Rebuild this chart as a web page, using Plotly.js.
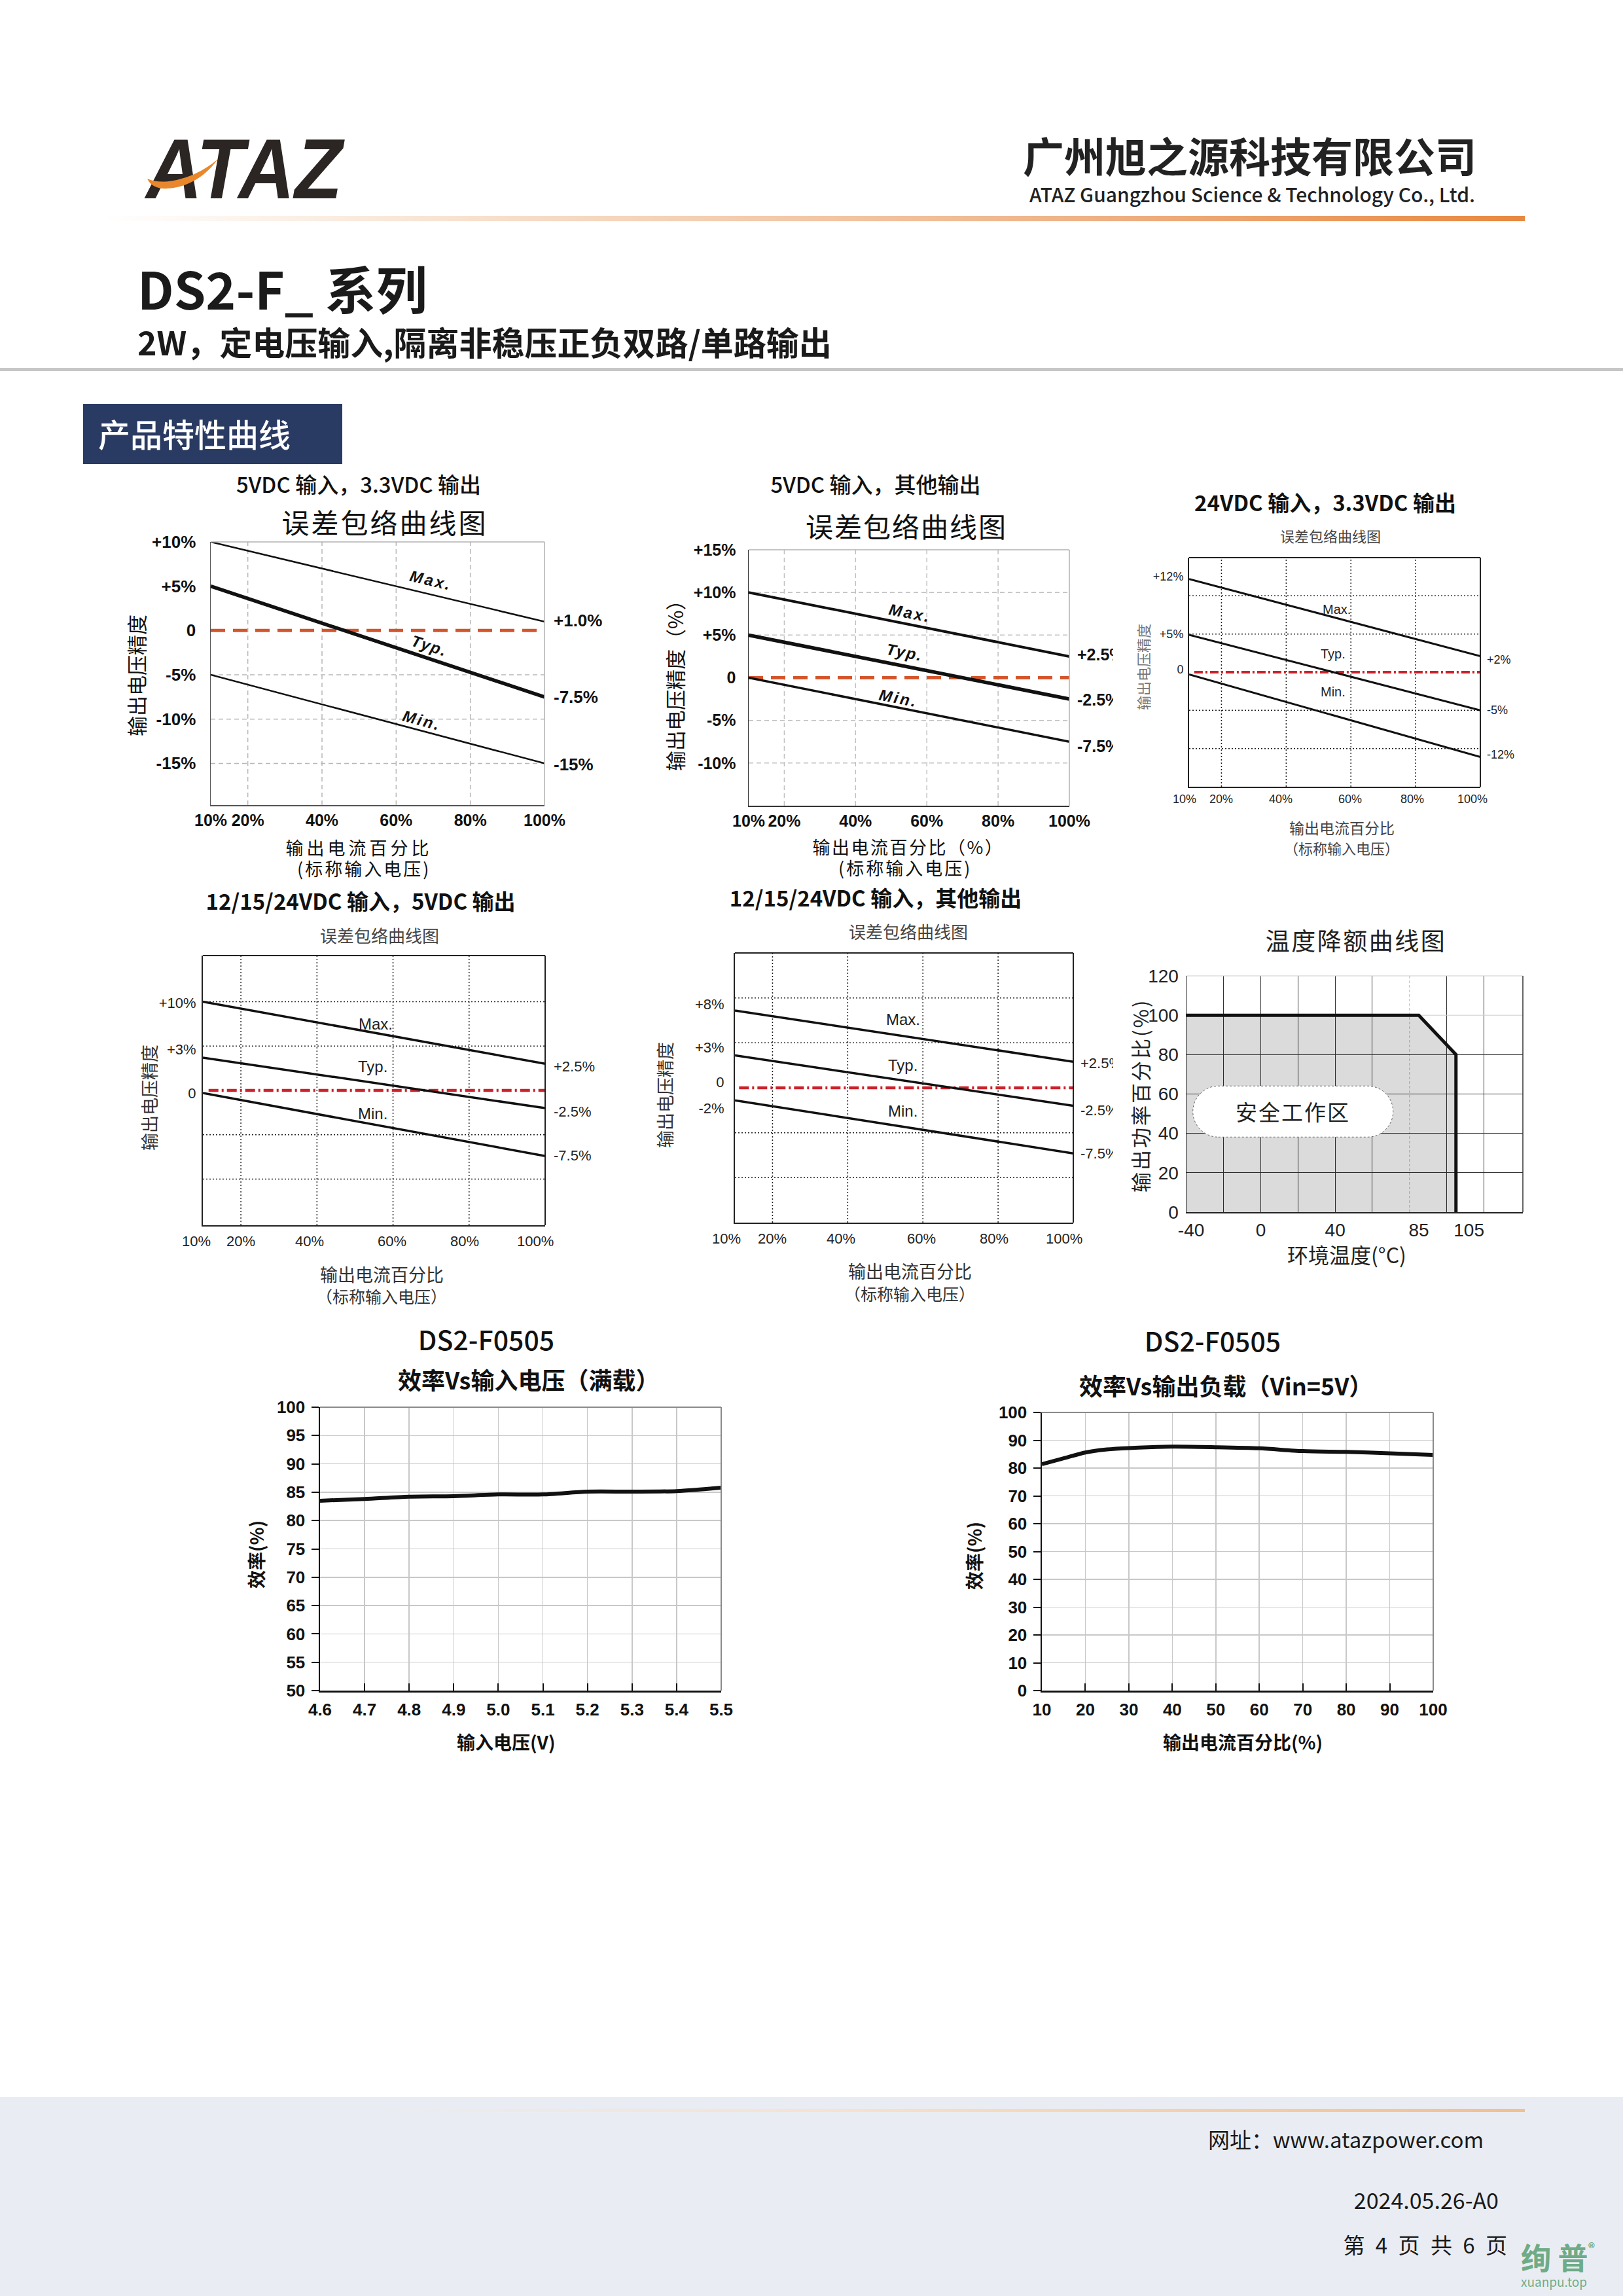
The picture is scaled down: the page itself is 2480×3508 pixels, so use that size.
<!DOCTYPE html>
<html><head><meta charset="utf-8">
<script src="https://cdn.plot.ly/plotly-3.0.1.min.js"></script>
<style>
html,body{margin:0;padding:0;background:#fff;}
#page{position:relative;width:2480px;height:3508px;overflow:hidden;background:#fff;font-family:"Noto Sans CJK SC","Noto Sans",sans-serif;color:#1a1a1a;}
.abs{position:absolute;white-space:nowrap;line-height:1;}
.chart{position:absolute;overflow:hidden;}
</style></head><body><div id="page">

<!-- header -->
<svg class="abs" style="left:200px;top:190px" width="400" height="135" viewBox="0 0 400 135">
  <text x="23" y="113" font-family="Liberation Sans, Arial, sans-serif" font-weight="bold" font-style="italic" font-size="130" fill="#2b2523" textLength="300" lengthAdjust="spacingAndGlyphs">ATAZ</text>
  <path d="M25 83 Q35 105 75 95 Q110 85 133 53 Q105 77 70 85 Q43 91 25 83 Z" fill="#e8872c"/>
</svg>
<div class="abs" style="right:224px;top:204px;font-size:63px;font-weight:700;color:#222;">广州旭之源科技有限公司</div>
<div class="abs" style="right:226px;top:281px;font-size:30px;font-weight:500;color:#222;">ATAZ Guangzhou Science &amp; Technology Co., Ltd.</div>
<div class="abs" style="left:156px;top:330px;width:2174px;height:8px;background:linear-gradient(to right,rgba(255,255,255,0),#f6dcc6 30%,#eeb184 70%,#e8883f);"></div>
<div class="abs" style="left:210px;top:400px;font-size:78px;font-weight:600;color:#1a1a1a;">DS2-F_ 系列</div>
<div class="abs" style="left:210px;top:496px;font-size:50px;font-weight:700;color:#1a1a1a;">2W，定电压输入,隔离非稳压正负双路/单路输出</div>
<div class="abs" style="left:0;top:562px;width:2480px;height:5px;background:#c6c6c6;"></div>
<div class="abs" style="left:127px;top:617px;width:396px;height:92px;background:#2a3b63;"></div>
<div class="abs" style="left:150px;top:637px;font-size:49px;font-weight:500;color:#fff;">产品特性曲线</div>

<!-- footer -->
<div class="abs" style="left:0;top:3204px;width:2480px;height:304px;background:#e9edf3;"></div>
<div class="abs" style="left:560px;top:3222px;width:1770px;height:5px;background:linear-gradient(to right,rgba(255,255,255,0),#f7e2cf 40%,#f2bf90);"></div>
<div class="abs" style="right:213px;top:3252px;font-size:33px;color:#1a1a1a;">网址：www.atazpower.com</div>
<div class="abs" style="right:190px;top:3344px;font-size:34px;color:#1a1a1a;">2024.05.26-A0</div>
<div class="abs" style="right:177px;top:3413px;font-size:33px;color:#1a1a1a;word-spacing:9px;">第 4 页 共 6 页</div>
<div class="abs" style="left:2324px;top:3424px;font-size:46px;font-weight:700;color:rgba(70,150,100,0.75);">绚 普<span style="font-size:21px;vertical-align:top;">®</span></div>
<div class="abs" style="left:2324px;top:3476px;font-size:19px;color:rgba(70,150,100,0.75);">xuanpu.top</div>

</div>
<script>
const CJK = '"Noto Sans CJK SC","Noto Sans",sans-serif';
const ARIAL = '"Liberation Sans",Arial,sans-serif';

// ================= DATA =================
const loadPct = [10, 100];
const refY = [0, 0];
const xTickVals = [10, 20, 40, 60, 80, 100];
const xTickText = ['10%', '20%', '40%', '60%', '80%', '100%'];
const curveNames = ['Max.', 'Typ.', 'Min.'];
const gridX = [20, 40, 60, 80];

// Chart 1: 5VDC in, 3.3VDC out
const c1Max = [10, 1.0];
const c1Typ = [5, -7.5];
const c1Min = [-5, -15];
const c1RefX = [10, 100];
const c1YTickVals = [10, 5, 0, -5, -10, -15];
const c1YTickText = ['+10%', '+5%', '0', '-5%', '-10%', '-15%'];
const c1RightVals = [1.1, -7.5, -15.1];
const c1RightText = ['+1.0%', '-7.5%', '-15%'];
const c1NameX = [69.3, 68.9, 67.0];
const c1NameY = [5.7, -1.7, -10.1];
const c1GridY = [-5, -10, -15];

// Chart 2: 5VDC in, other outputs
const c2Max = [10, 2.5];
const c2Typ = [5, -2.5];
const c2Min = [0, -7.5];
const c2RefX = [10, 100];
const c2YTickVals = [15, 10, 5, 0, -5, -10];
const c2YTickText = ['+15%', '+10%', '+5%', '0', '-5%', '-10%'];
const c2RightVals = [2.7, -2.6, -8.0];
const c2RightText = ['+2.5%', '-2.5%', '-7.5%'];
const c2NameX = [55.2, 53.8, 52.0];
const c2NameY = [7.6, 3.0, -2.4];
const c2GridY = [10, 5, -5, -10];

// Chart 3: 24VDC in, 3.3VDC out
const c3Max = [12.2, 2.1];
const c3Typ = [4.9, -5.0];
const c3Min = [-0.3, -11.1];
const c3RefX = [11.6, 100];
const c3YTickVals = [12.5, 5.0, 0.4];
const c3YTickText = ['+12%', '+5%', '0'];
const c3XTickPos = [8.6, 20, 38.4, 59.8, 79, 97.6];
const c3RightVals = [1.6, -5.0, -10.8];
const c3RightText = ['+2%', '-5%', '-12%'];
const c3NameX = [55.6, 54.4, 54.4];
const c3NameY = [8.2, 2.4, -2.6];
const gridY10 = [10, 5, -5, -10];

// Chart 4: 12/15/24VDC in, 5VDC out
const c4Max = [10.0, 3.0];
const c4Typ = [3.7, -2.0];
const c4Min = [-0.3, -7.4];
const c4RefX = [11.5, 100];
const c4YTickVals = [9.9, 4.6, -0.3];
const c4YTickText = ['+10%', '+3%', '0'];
const c4XTickPos = [8.2, 20, 38.1, 59.7, 78.8, 97.4];
const c4RightVals = [2.7, -2.4, -7.35];
const c4RightText = ['+2.5%', '-2.5%', '-7.5%'];
const c4NameX = [55.5, 54.6, 54.6];
const c4NameY = [7.5, 2.7, -2.6];

// Chart 5: 12/15/24VDC in, other outputs
const c5Max = [8.6, 2.9];
const c5Typ = [3.6, -2.0];
const c5Min = [-1.4, -7.3];
const c5RefX = [11.1, 100];
const c5YTickVals = [9.3, 4.5, 0.6, -2.3];
const c5YTickText = ['+8%', '+3%', '0', '-2%'];
const c5XTickPos = [7.8, 20, 38.2, 59.7, 78.9, 97.5];
const c5RightVals = [2.7, -2.5, -7.3];
const c5RightText = ['+2.5%', '-2.5%', '-7.5%'];
const c5NameX = [54.7, 54.7, 54.7];
const c5NameY = [7.6, 2.5, -2.6];

// Chart 6: temperature derating
const tempC = [-40, 85, 105, 105];
const powerPct = [100, 100, 80, 0];
const c6XTickPos = [-37.5, 0, 40, 85, 112];
const c6XTickText = ['-40', '0', '40', '85', '105'];
const c6YTickVals = [0, 20, 40, 60, 80, 100, 120];
const c6GridX = [-20, 0, 20, 40, 60, 100, 120];
const c6GridY = [20, 40, 60, 80];
const c6SafeCenter = [17.3, 51.1];

// Chart 7: efficiency vs input voltage
const vin = [4.6, 4.7, 4.8, 4.9, 5.0, 5.1, 5.2, 5.3, 5.4, 5.5];
const effVin = [83.5, 83.8, 84.2, 84.3, 84.6, 84.6, 85.1, 85.1, 85.2, 85.8];

// Chart 8: efficiency vs output load
const loadC8 = [10, 15, 20, 25, 30, 40, 50, 60, 70, 80, 90, 100];
const effLoad = [81.4, 83.5, 85.6, 86.7, 87.2, 87.7, 87.5, 87.1, 86.1, 85.8, 85.3, 84.7];

// ================= HELPERS =================
const PAGE = document.getElementById('page');
function mkDiv(id, g) {
  const d = document.createElement('div');
  d.id = id; d.className = 'chart';
  d.style.left = g.left + 'px'; d.style.top = g.top + 'px';
  d.style.width = g.w + 'px'; d.style.height = g.h + 'px';
  PAGE.appendChild(d);
  return d;
}
function baseLayout(g) {
  return {
    width: g.w, height: g.h,
    margin: {l: g.x0 - g.left, r: g.left + g.w - g.x1, t: g.y0 - g.top, b: g.top + g.h - g.y1, pad: 0, autoexpand: false},
    paper_bgcolor: 'rgba(0,0,0,0)', plot_bgcolor: '#fff', showlegend: false,
    font: {family: CJK, color: '#111'}
  };
}
function PX(g, X) { return (X - g.x0) / (g.x1 - g.x0); }
function PY(g, Y) { return (g.y1 - Y) / (g.y1 - g.y0); }
function txt(g, text, X, Y, font, opt) {
  opt = opt || {};
  return {text: text, xref: 'paper', yref: 'paper', x: PX(g, X), y: PY(g, Y),
    xanchor: opt.xa || 'center', yanchor: 'middle', showarrow: false,
    textangle: opt.angle || 0, font: font};
}
function titleObj(g, text, X, Y, font) {
  return {text: text, xref: 'container', yref: 'container', x: (X - g.left) / g.w, y: 1 - (Y - g.top) / g.h,
    xanchor: 'center', yanchor: 'middle', font: font};
}
function spaceOut(div, map) {
  if (!map) return;
  div.querySelectorAll('text').forEach(t => {
    const k = t.textContent;
    if (map[k] !== undefined) t.style.letterSpacing = map[k] + 'px';
  });
}
const CFG = {staticPlot: true, displayModeBar: false};

function errorChart(id, o) {
  const g = o.g;
  const div = mkDiv(id, g);
  const data = [
    {x: o.refX, y: refY, mode: 'lines', line: {color: o.refColor, width: o.refW, dash: o.refDash}},
    {x: loadPct, y: o.max, mode: 'lines', line: {color: '#111', width: o.lw[0]}},
    {x: loadPct, y: o.typ, mode: 'lines', line: {color: '#111', width: o.lw[1]}},
    {x: loadPct, y: o.min, mode: 'lines', line: {color: '#111', width: o.lw[2]}}
  ];
  const shapes = [];
  gridX.forEach(v => shapes.push({type: 'line', xref: 'x', yref: 'paper', x0: v, x1: v, y0: 0, y1: 1, layer: 'below',
    line: {color: o.gridColor, width: o.gridW, dash: o.gridDash}}));
  o.gridY.forEach(v => shapes.push({type: 'line', xref: 'paper', yref: 'y', x0: 0, x1: 1, y0: v, y1: v, layer: 'below',
    line: {color: o.gridColor, width: o.gridW, dash: o.gridDash}}));
  shapes.push({type: 'line', xref: 'paper', yref: 'paper', x0: 0, x1: 1, y0: 1, y1: 1, line: {color: o.frameTR, width: o.frameW}});
  shapes.push({type: 'line', xref: 'paper', yref: 'paper', x0: 1, x1: 1, y0: 0, y1: 1, line: {color: o.frameTR, width: o.frameW}});
  const ann = [];
  curveNames.forEach((t, i) => ann.push({text: t, x: o.nameX[i], y: o.nameY[i], xref: 'x', yref: 'y', showarrow: false,
    textangle: o.nameAngle[i], font: o.nameFont}));
  o.rightText.forEach((t, i) => ann.push({text: t, xref: 'paper', yref: 'y', x: PX(g, o.rightX), y: o.rightVals[i],
    xanchor: 'left', yanchor: 'middle', showarrow: false, font: o.sideFont}));
  if (o.xLabelY !== undefined) {
    o.xTickPos.forEach((v, i) => ann.push({text: xTickText[i], xref: 'paper', yref: 'paper',
      x: (v - 10) / 90, y: PY(g, o.xLabelY), xanchor: 'center', yanchor: 'middle', showarrow: false, font: o.xTickFont}));
  }
  ann.push(txt(g, o.subtitle[0], o.subtitle[1], o.subtitle[2], o.subFont));
  o.xTitle.forEach(t => ann.push(txt(g, t[0], t[1], t[2], t[3])));
  ann.push(txt(g, o.yTitle[0], o.yTitle[1], o.yTitle[2], o.yTitle[3], {angle: -90}));
  const layout = Object.assign(baseLayout(g), {
    title: titleObj(g, o.title[0], o.title[1], o.title[2], o.titleFont),
    xaxis: {range: [10, 100], tickvals: xTickVals, ticktext: xTickText, showticklabels: o.xLabelY === undefined,
      showgrid: false, zeroline: false,
      showline: true, linecolor: o.frameLB, linewidth: o.frameW, ticks: 'outside', ticklen: o.xTickLen || 0,
      tickcolor: 'rgba(0,0,0,0)', tickfont: o.xTickFont},
    yaxis: {range: o.yRange, tickvals: o.yTickVals, ticktext: o.yTickText, showgrid: false, zeroline: false,
      showline: true, linecolor: o.frameLB, linewidth: o.frameW, ticks: 'outside', ticklen: o.yTickLen,
      tickcolor: 'rgba(0,0,0,0)', tickfont: o.sideFont},
    shapes: shapes, annotations: ann
  });
  Plotly.newPlot(div, data, layout, CFG).then(() => spaceOut(div, o.spacing));
}

// ================= CHART 1 =================
{
  const g = {left: 180, top: 700, w: 780, h: 650, x0: 322, x1: 832, y0: 828, y1: 1230};
  const bold = {family: ARIAL, size: 26, weight: 'bold', color: '#111'};
  errorChart('c1', {
    g: g, max: c1Max, typ: c1Typ, min: c1Min, refX: c1RefX,
    refColor: '#d4552b', refW: 5, refDash: '22px,12px', lw: [2.5, 5.5, 2.5],
    gridColor: '#b8b8b8', gridW: 1.5, gridDash: '7px,5px', gridY: c1GridY,
    frameLB: '#555', frameTR: '#b0b0b0', frameW: 1.5,
    yRange: [-19.7, 10], yTickVals: c1YTickVals, yTickText: c1YTickText, yTickLen: 16,
    xTickLen: 0, xTickFont: {family: ARIAL, size: 25, weight: 'bold', color: '#111'},
    sideFont: bold, rightX: 844, rightVals: c1RightVals, rightText: c1RightText,
    nameX: c1NameX, nameY: c1NameY, nameAngle: [13, 18, 15],
    nameFont: {family: ARIAL, size: 24, weight: 'bold', style: 'italic', color: '#111'},
    title: ['5VDC 输入，3.3VDC 输出', 548, 741], titleFont: {family: CJK, size: 33, weight: 500, color: '#111'},
    subtitle: ['误差包络曲线图', 588, 797], subFont: {family: CJK, size: 42, color: '#111'},
    xTitle: [['输出电流百分比', 548, 1294, {family: CJK, size: 27, color: '#111'}],
             ['(标称输入电压)', 556, 1326, {family: CJK, size: 27, color: '#111'}]],
    yTitle: ['输出电压精度', 207, 1032, {family: CJK, size: 31, color: '#111'}],
    spacing: {'误差包络曲线图': 3, '输出电流百分比': 5, '(标称输入电压)': 3, 'Max.': 3, 'Typ.': 2, 'Min.': 3}
  });
}

// ================= CHART 2 =================
{
  const g = {left: 980, top: 700, w: 721, h: 650, x0: 1144, x1: 1634, y0: 840, y1: 1231};
  const bold = {family: ARIAL, size: 25, weight: 'bold', color: '#111'};
  errorChart('c2', {
    g: g, max: c2Max, typ: c2Typ, min: c2Min, refX: c2RefX,
    refColor: '#d4552b', refW: 5, refDash: '22px,12px', lw: [4, 5.5, 3.5],
    gridColor: '#c0c0c0', gridW: 1.5, gridDash: '7px,5px', gridY: c2GridY,
    frameLB: '#333', frameTR: '#b0b0b0', frameW: 1.5,
    yRange: [-15, 15], yTickVals: c2YTickVals, yTickText: c2YTickText, yTickLen: 13,
    xTickLen: 0, xTickFont: {family: ARIAL, size: 25, weight: 'bold', color: '#111'},
    sideFont: bold, rightX: 1644, rightVals: c2RightVals, rightText: c2RightText,
    nameX: c2NameX, nameY: c2NameY, nameAngle: [11, 11, 11],
    nameFont: {family: ARIAL, size: 24, weight: 'bold', style: 'italic', color: '#111'},
    title: ['5VDC 输入，其他输出', 1338, 741], titleFont: {family: CJK, size: 33, weight: 500, color: '#111'},
    subtitle: ['误差包络曲线图', 1385, 802], subFont: {family: CJK, size: 42, color: '#111'},
    xTitle: [['输出电流百分比（%）', 1388, 1293, {family: CJK, size: 27, color: '#111'}],
             ['(标称输入电压)', 1383, 1325, {family: CJK, size: 27, color: '#111'}]],
    yTitle: ['输出电压精度（%）', 1030, 1040, {family: CJK, size: 31, color: '#111'}],
    spacing: {'误差包络曲线图': 2, '输出电流百分比（%）': 2.5, '(标称输入电压)': 3, 'Max.': 3, 'Typ.': 2, 'Min.': 3}
  });
}

// ================= CHART 3 =================
{
  const g = {left: 1725, top: 740, w: 685, h: 600, x0: 1817, x1: 2262, y0: 852, y1: 1202};
  const f = {family: ARIAL, size: 18, color: '#222'};
  errorChart('c3', {
    g: g, max: c3Max, typ: c3Typ, min: c3Min, refX: c3RefX,
    refColor: '#cc2229', refW: 4, refDash: '13px,4px,3px,4px', lw: [3, 3, 3],
    gridColor: '#222', gridW: 1.5, gridDash: '2px,3px', gridY: gridY10,
    frameLB: '#222', frameTR: '#222', frameW: 2,
    yRange: [-15, 15], yTickVals: c3YTickVals, yTickText: c3YTickText, yTickLen: 3,
    xTickPos: c3XTickPos, xLabelY: 1221, xTickFont: f,
    sideFont: f, rightX: 2270, rightVals: c3RightVals, rightText: c3RightText,
    nameX: c3NameX, nameY: c3NameY, nameAngle: [0, 0, 0],
    nameFont: {family: ARIAL, size: 20, color: '#222'},
    title: ['24VDC 输入，3.3VDC 输出', 2025, 769], titleFont: {family: CJK, size: 33, weight: 700, color: '#111'},
    subtitle: ['误差包络曲线图', 2033, 818], subFont: {family: CJK, size: 22, color: '#444'},
    xTitle: [['输出电流百分比', 2050, 1264, {family: CJK, size: 23, color: '#444'}],
             ['（标称输入电压）', 2050, 1295, {family: CJK, size: 22, color: '#444'}]],
    yTitle: ['输出电压精度', 1746, 1019, {family: CJK, size: 22, color: '#777'}]
  });
}

// ================= CHART 4 =================
{
  const g = {left: 180, top: 1330, w: 780, h: 680, x0: 310, x1: 833, y0: 1460, y1: 1872};
  const f = {family: ARIAL, size: 22, color: '#222'};
  errorChart('c4', {
    g: g, max: c4Max, typ: c4Typ, min: c4Min, refX: c4RefX,
    refColor: '#cc2229', refW: 4.5, refDash: '15px,5px,3px,5px', lw: [3.5, 3.5, 3.5],
    gridColor: '#222', gridW: 1.5, gridDash: '2px,3px', gridY: gridY10,
    frameLB: '#222', frameTR: '#222', frameW: 2,
    yRange: [-15.2, 15.2], yTickVals: c4YTickVals, yTickText: c4YTickText, yTickLen: 4,
    xTickPos: c4XTickPos, xLabelY: 1896, xTickFont: f,
    sideFont: f, rightX: 844, rightVals: c4RightVals, rightText: c4RightText,
    nameX: c4NameX, nameY: c4NameY, nameAngle: [0, 0, 0],
    nameFont: {family: ARIAL, size: 24, color: '#222'},
    title: ['12/15/24VDC 输入，5VDC 输出', 551, 1378], titleFont: {family: CJK, size: 33, weight: 700, color: '#111'},
    subtitle: ['误差包络曲线图', 580, 1428], subFont: {family: CJK, size: 26, color: '#444'},
    xTitle: [['输出电流百分比', 583, 1946, {family: CJK, size: 27, color: '#333'}],
             ['（标称输入电压）', 583, 1980, {family: CJK, size: 25, color: '#333'}]],
    yTitle: ['输出电压精度', 227, 1677, {family: CJK, size: 27, color: '#333'}]
  });
}

// ================= CHART 5 =================
{
  const g = {left: 980, top: 1330, w: 721, h: 680, x0: 1123, x1: 1640, y0: 1456, y1: 1868};
  const f = {family: ARIAL, size: 22, color: '#222'};
  errorChart('c5', {
    g: g, max: c5Max, typ: c5Typ, min: c5Min, refX: c5RefX,
    refColor: '#cc2229', refW: 4.5, refDash: '15px,5px,3px,5px', lw: [3.5, 3.5, 3.5],
    gridColor: '#222', gridW: 1.5, gridDash: '2px,3px', gridY: gridY10,
    frameLB: '#222', frameTR: '#222', frameW: 2,
    yRange: [-15, 15], yTickVals: c5YTickVals, yTickText: c5YTickText, yTickLen: 10,
    xTickPos: c5XTickPos, xLabelY: 1892, xTickFont: f,
    sideFont: f, rightX: 1649, rightVals: c5RightVals, rightText: c5RightText,
    nameX: c5NameX, nameY: c5NameY, nameAngle: [0, 0, 0],
    nameFont: {family: ARIAL, size: 24, color: '#222'},
    title: ['12/15/24VDC 输入，其他输出', 1338, 1373], titleFont: {family: CJK, size: 33, weight: 700, color: '#111'},
    subtitle: ['误差包络曲线图', 1388, 1423], subFont: {family: CJK, size: 26, color: '#444'},
    xTitle: [['输出电流百分比', 1390, 1941, {family: CJK, size: 27, color: '#333'}],
             ['（标称输入电压）', 1390, 1976, {family: CJK, size: 25, color: '#333'}]],
    yTitle: ['输出电压精度', 1015, 1673, {family: CJK, size: 27, color: '#333'}]
  });
}

// ================= CHART 6 =================
{
  const g = {left: 1700, top: 1380, w: 700, h: 580, x0: 1813, x1: 2327, y0: 1491, y1: 1852};
  const div = mkDiv('c6', g);
  const f = {family: ARIAL, size: 28, color: '#222'};
  const data = [{x: tempC, y: powerPct, mode: 'lines', fill: 'tozeroy', fillcolor: 'rgba(0,0,0,0.14)',
    line: {color: '#111', width: 5}}];
  const w = 153, r = 39, k = 0.5523 * r;
  const pth = `M ${-w + r} ${-r} L ${w - r} ${-r} C ${w - r + k} ${-r} ${w} ${-k} ${w} 0 C ${w} ${k} ${w - r + k} ${r} ${w - r} ${r} ` +
              `L ${-w + r} ${r} C ${-w + r - k} ${r} ${-w} ${k} ${-w} 0 C ${-w} ${-k} ${-w + r - k} ${-r} ${-w + r} ${-r} Z`;
  const shapes = [
    {type: 'line', xref: 'x', yref: 'paper', x0: 80, x1: 80, y0: 0, y1: 1, layer: 'between', line: {color: '#bbb', width: 1, dash: '4px,3px'}},
    {type: 'line', xref: 'x', yref: 'y', x0: 85, x1: 141, y0: 100, y1: 100, layer: 'between', line: {color: '#ccc', width: 1}},
    {type: 'line', xref: 'paper', yref: 'paper', x0: 0, x1: 1, y0: 1, y1: 1, line: {color: '#ccc', width: 1}},
    {type: 'line', xref: 'paper', yref: 'paper', x0: 1, x1: 1, y0: 0, y1: 1, line: {color: '#333', width: 1.5}},
    {type: 'path', xref: 'x', yref: 'y', xsizemode: 'pixel', ysizemode: 'pixel', xanchor: c6SafeCenter[0], yanchor: c6SafeCenter[1],
      path: pth, fillcolor: '#fff', layer: 'above', line: {color: '#666', width: 1, dash: 'dot'}}
  ];
  const ann = [
    {text: '安全工作区', x: c6SafeCenter[0], y: c6SafeCenter[1], xref: 'x', yref: 'y', showarrow: false,
      font: {family: CJK, size: 33, color: '#222'}},
    txt(g, '输出功率百分比(%)', 1741, 1674, {family: CJK, size: 31, color: '#222'}, {angle: -90}),
    txt(g, '环境温度(°C)', 2058, 1916, {family: CJK, size: 32, color: '#222'})
  ];
  const layout = Object.assign(baseLayout(g), {
    title: titleObj(g, '温度降额曲线图', 2072, 1439, {family: CJK, size: 37, color: '#222'}),
    xaxis: {range: [-40, 141], tickvals: c6XTickPos, ticktext: c6XTickText, showgrid: false, zeroline: false,
      showline: true, linecolor: '#222', linewidth: 1.5, ticks: 'outside', ticklen: 2, tickcolor: 'rgba(0,0,0,0)', tickfont: f,
      minor: {tickvals: c6GridX, showgrid: true, gridcolor: '#333', gridwidth: 1, ticks: ''}},
    yaxis: {range: [0, 120], tickvals: c6YTickVals, showgrid: false, zeroline: false,
      showline: true, linecolor: '#222', linewidth: 1.5, ticks: 'outside', ticklen: 5, tickcolor: 'rgba(0,0,0,0)', tickfont: f,
      minor: {tickvals: c6GridY, showgrid: true, gridcolor: '#333', gridwidth: 1, ticks: ''}},
    shapes: shapes, annotations: ann
  });
  Plotly.newPlot(div, data, layout, CFG).then(() =>
    spaceOut(div, {'温度降额曲线图': 2.5, '安全工作区': 2, '输出功率百分比(%)': 3}));
}

// ================= CHART 7 & 8 =================
function effChart(id, g, xs, ys, o) {
  const div = mkDiv(id, g);
  const tf = {family: ARIAL, size: 26, weight: 'bold', color: '#111'};
  const data = [{x: xs, y: ys, mode: 'lines', line: {color: '#111', width: 6, shape: 'spline', smoothing: 0.8}}];
  const shapes = [
    {type: 'line', xref: 'paper', yref: 'paper', x0: 0, x1: 1, y0: 1, y1: 1, line: {color: '#8a8a8a', width: 2}},
    {type: 'line', xref: 'paper', yref: 'paper', x0: 1, x1: 1, y0: 0, y1: 1, line: {color: '#8a8a8a', width: 2}}
  ];
  const ann = [
    txt(g, o.sub[0], o.sub[1], o.sub[2], {family: CJK, size: 36, weight: 700, color: '#111'}),
    txt(g, o.xt[0], o.xt[1], o.xt[2], {family: CJK, size: 28, weight: 700, color: '#111'}),
    txt(g, '效率(%)', o.yt[0], o.yt[1], {family: CJK, size: 28, weight: 700, color: '#111'}, {angle: -90})
  ];
  const layout = Object.assign(baseLayout(g), {
    title: titleObj(g, 'DS2-F0505', o.title[0], o.title[1], {family: CJK, size: 41, weight: 500, color: '#111'}),
    xaxis: Object.assign({range: o.xr, showgrid: true, gridcolor: '#c8c8c8', gridwidth: 1.5, zeroline: false,
      showline: true, linecolor: '#111', linewidth: 2.5, ticks: 'inside', ticklen: 11, tickwidth: 2, tickcolor: '#111',
      ticklabelstandoff: 4, tickfont: tf}, o.xax),
    yaxis: Object.assign({range: o.yr, showgrid: true, gridcolor: '#c8c8c8', gridwidth: 1.5, zeroline: false,
      showline: true, linecolor: '#111', linewidth: 2.5, ticks: 'outside', ticklen: 11, tickwidth: 2, tickcolor: '#111',
      ticklabelstandoff: 4, tickfont: tf}, o.yax),
    shapes: shapes, annotations: ann
  });
  Plotly.newPlot(div, data, layout, CFG);
}
effChart('c7', {left: 350, top: 2000, w: 800, h: 700, x0: 489, x1: 1102, y0: 2150, y1: 2583}, vin, effVin, {
  sub: ['效率Vs输入电压（满载）', 807, 2107], xt: ['输入电压(V)', 773, 2661], yt: [391, 2375], title: [743, 2049],
  xr: [4.6, 5.5], yr: [50, 100], xax: {tick0: 4.6, dtick: 0.1, tickformat: '.1f'}, yax: {tick0: 50, dtick: 5}
});
effChart('c8', {left: 1450, top: 2000, w: 800, h: 700, x0: 1592, x1: 2190, y0: 2158, y1: 2583}, loadC8, effLoad, {
  sub: ['效率Vs输出负载（Vin=5V）', 1873, 2116], xt: ['输出电流百分比(%)', 1899, 2661], yt: [1488, 2377], title: [1853, 2051],
  xr: [10, 100], yr: [0, 100], xax: {tick0: 10, dtick: 10}, yax: {tick0: 0, dtick: 10}
});
</script>
</body></html>
